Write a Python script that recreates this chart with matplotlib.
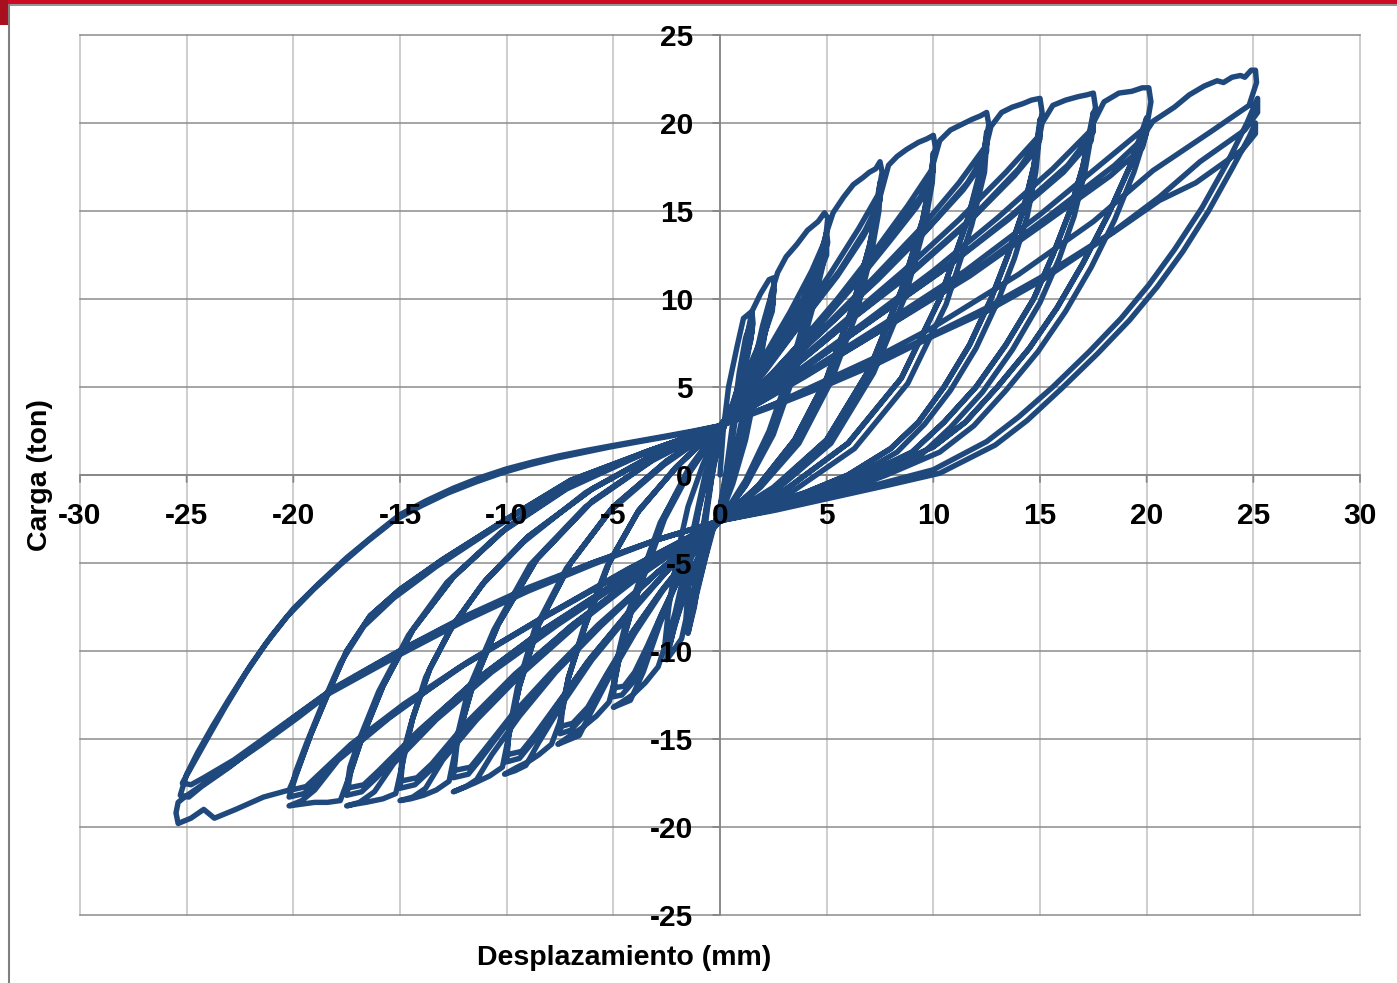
import numpy as np
import matplotlib
matplotlib.use("Agg")
import matplotlib.pyplot as plt
from matplotlib.patches import Rectangle
from matplotlib.lines import Line2D

# ---------------- data (displacement mm, load ton) ----------------
x_ticks = [-30, -25, -20, -15, -10, -5, 0, 5, 10, 15, 20, 25, 30]
y_ticks = [-25, -20, -15, -10, -5, 0, 5, 10, 15, 20, 25]
x_label = "Desplazamiento (mm)"
y_label = "Carga (ton)"

loop_1_5 = [
    (0, 0), (0.15, 2.5), (0.4, 5), (0.8, 7.3), (1.1, 8.9), (1.5, 9.3), (1.55, 8.6), (1.3, 6.8), (0.9, 5), (0.4, 3.3), (0, 2.2),
    (-0.3, 0.6), (-0.6, -2), (-0.9, -5), (-1.2, -7.5), (-1.5, -9), (-1.4, -8.4), (-1.1, -6.8), (-0.7, -4.8), (-0.3, -3), (0, -1.8),
    (0.3, 0.3), (0.6, 3), (0.9, 5.8), (1.2, 7.8), (1.5, 8.8), (1.5, 8.1), (1.1, 6), (0.6, 4), (0, 2.2),
    (-0.4, 0), (-0.8, -3), (-1.1, -6), (-1.4, -8.2), (-1.5, -8.6), (-1.3, -7.6), (-0.9, -5.6), (-0.4, -3.3), (0, -1.9),
    (0.35, 0.3), (0.7, 3), (1.0, 5.6), (1.3, 7.6), (1.5, 8.4), (1.45, 7.7), (1.0, 5.6), (0.5, 3.7), (0, 2.2),
    (-0.4, -0.2), (-0.8, -3.2), (-1.2, -6.2), (-1.4, -7.8), (-1.5, -8.2), (-1.2, -7.1), (-0.8, -5.2), (-0.4, -3.2), (0, -2),
]

loop_2_5 = [
    (0.3, 0), (0.6, 2.5), (0.9, 5), (1.2, 7.5), (1.5, 9.3), (1.9, 10.3), (2.3, 11.1), (2.5, 11.2), (2.55, 10.5), (2.3, 9), (1.7, 7), (1.0, 5), (0.4, 3.5), (0, 2.5),
    (-0.5, 0.5), (-1.0, -2), (-1.4, -5), (-1.6, -8.2), (-1.8, -9.3), (-2.2, -10), (-2.5, -10.5), (-2.4, -10), (-2.1, -8.3), (-1.6, -6.3), (-0.9, -4.3), (0, -2.3),
    (0.5, 0.2), (1.0, 3), (1.5, 5.8), (2.0, 8.5), (2.3, 9.8), (2.5, 10.5), (2.5, 9.8), (2.1, 8.2), (1.4, 6.2), (0.7, 4.2), (0, 2.5),
    (-0.6, 0.2), (-1.1, -2.5), (-1.6, -5.5), (-2.0, -7.8), (-2.3, -9.3), (-2.5, -10), (-2.3, -9.4), (-1.9, -7.6), (-1.3, -5.5), (-0.6, -3.6), (0, -2.4),
    (0.6, 0), (1.1, 2.7), (1.6, 5.5), (2.1, 8), (2.4, 9.4), (2.5, 10), (2.45, 9.3), (2.0, 7.7), (1.3, 5.8), (0.6, 4), (0, 2.5),
    (-0.7, 0), (-1.2, -2.8), (-1.7, -5.7), (-2.1, -7.8), (-2.4, -9.1), (-2.5, -9.6), (-2.2, -8.8), (-1.7, -7), (-1.1, -5), (-0.5, -3.4), (0, -2.4),
]

loop_5 = [
    (0.6, -0.5), (1.2, 2), (1.7, 5), (2.1, 8), (2.4, 10.3), (2.7, 11.5), (3.1, 12.4), (3.6, 13.1), (4.1, 13.9), (4.6, 14.4), (4.9, 14.9), (5.05, 14.6), (4.95, 13.4), (4.3, 11.6), (3.3, 9.3), (2.2, 7), (1.1, 4.8), (0, 2.7),
    (-0.8, 0.6), (-1.5, -1.8), (-2, -4.5), (-2.4, -7.5), (-2.6, -9.8), (-2.9, -10.9), (-3.5, -11.8), (-4.1, -12.5), (-4.6, -12.9), (-5, -13.2), (-4.6, -13), (-4.2, -12.8), (-3.6, -11.2), (-2.8, -8.4), (-2.1, -6.3), (-1.4, -4.6), (-0.7, -3.4), (0, -2.6),
    (1.2, -0.3), (2.3, 2.5), (3.3, 6), (4.1, 9.5), (4.6, 12), (5, 13.8), (5.05, 13.2), (4.7, 12), (3.9, 10), (2.8, 7.8), (1.5, 5.2), (0, 2.7),
    (-1.5, 0), (-2.6, -2.5), (-3.4, -5.2), (-4.1, -7.5), (-4.6, -9.7), (-4.9, -11.5), (-5, -12.6), (-4.6, -12.5), (-4.1, -11.8), (-3.5, -10.2), (-2.8, -8.1), (-2, -6), (-1, -4), (0, -2.6),
    (1.3, -0.4), (2.5, 2.3), (3.5, 5.8), (4.3, 9.3), (4.8, 11.8), (5, 13.2), (5, 12.5), (4.6, 11.3), (3.8, 9.4), (2.7, 7.4), (1.4, 5), (0, 2.7),
    (-1.6, -0.1), (-2.8, -2.7), (-3.6, -5.4), (-4.3, -7.8), (-4.7, -9.8), (-4.95, -11.3), (-5, -12.1), (-4.5, -12), (-4, -11.2), (-3.4, -9.7), (-2.7, -7.8), (-1.9, -5.8), (-1, -3.9), (0, -2.6),
]

loop_7_5 = [
    (1.2, -0.6), (2.3, 2.3), (3.3, 5.8), (4.1, 9.3), (4.6, 11.8), (5.0, 13.8), (5.3, 14.9), (5.8, 15.8), (6.25, 16.5), (6.7, 16.9), (7.0, 17.2), (7.3, 17.4), (7.5, 17.8), (7.6, 17.2), (7.4, 15.9), (6.5, 14), (5.2, 11.5), (3.7, 8.8), (1.9, 5.8), (0, 2.8),
    (-1.5, 0.3), (-2.6, -2.3), (-3.4, -5), (-4.1, -7.5), (-4.6, -9.6), (-4.9, -11.5), (-5.2, -12.9), (-5.8, -13.7), (-6.5, -14.4), (-7, -14.8), (-7.6, -15.3), (-7.2, -15.1), (-6.6, -14.8), (-6.1, -13.6), (-5.2, -11.5), (-4, -9), (-2.7, -6.6), (-1.3, -4.4), (0, -2.6),
    (1.8, -0.6), (3.5, 2), (5, 5.5), (6.2, 9.5), (7, 13), (7.4, 15.5), (7.5, 16.6), (7.5, 15.6), (6.8, 13.9), (5.6, 11.6), (4, 9), (2, 5.8), (0, 2.8),
    (-2, 0.5), (-3.8, -2), (-5.2, -5), (-6.3, -8.5), (-7.1, -11.5), (-7.4, -13.5), (-7.5, -14.7), (-7, -14.5), (-6.3, -13.6), (-5.4, -11.6), (-4.2, -9.1), (-2.8, -6.7), (-1.4, -4.5), (0, -2.6),
    (1.9, -0.7), (3.7, 1.8), (5.2, 5.3), (6.4, 9.2), (7.1, 12.6), (7.45, 15), (7.5, 16), (7.4, 15.1), (6.7, 13.5), (5.5, 11.3), (3.9, 8.8), (2, 5.7), (0, 2.8),
    (-2.1, 0.4), (-3.9, -2.2), (-5.3, -5.2), (-6.4, -8.7), (-7.1, -11.5), (-7.45, -13.4), (-7.5, -14.3), (-6.9, -14.1), (-6.2, -13.2), (-5.3, -11.3), (-4.1, -8.9), (-2.7, -6.5), (-1.3, -4.4), (0, -2.6),
]

loop_10 = [
    (1.8, -0.6), (3.5, 2), (5, 5.5), (6.2, 9.5), (7, 13), (7.5, 15.8), (7.9, 17.6), (8.3, 18.1), (8.75, 18.5), (9.3, 18.9), (9.7, 19.1), (10, 19.3), (10.1, 18.6), (9.9, 17.3), (8.8, 15.3), (7.3, 12.8), (5.5, 10), (3.6, 7.3), (1.8, 4.9), (0, 2.8),
    (-2, 0.5), (-3.8, -2), (-5.2, -5), (-6.3, -8.5), (-7.1, -11.5), (-7.5, -14), (-7.9, -15.3), (-8.5, -15.9), (-9, -16.3), (-9.5, -16.6), (-10.1, -17), (-9.6, -16.8), (-9.1, -16.5), (-8.5, -15.2), (-7.4, -13), (-6, -10.5), (-4.3, -8), (-2.3, -5.2), (0, -2.6),
    (2.5, -0.7), (5, 2), (7, 6), (8.5, 10.5), (9.5, 14.5), (9.9, 16.8), (10, 18.3), (10, 17.3), (9.4, 15.8), (8.1, 13.7), (6.5, 11.2), (4.6, 8.6), (2.4, 5.7), (0, 2.8),
    (-2.5, 0.8), (-5, -1.8), (-7, -5), (-8.5, -8.5), (-9.4, -12), (-9.9, -14.8), (-10, -16.3), (-9.4, -16.1), (-8.8, -15.2), (-7.7, -13.2), (-6.2, -10.6), (-4.4, -8), (-2.3, -5.2), (0, -2.6),
    (2.6, -0.9), (5.2, 1.8), (7.2, 5.8), (8.7, 10.2), (9.6, 14.2), (9.95, 16.6), (10, 17.6), (9.9, 16.6), (9.2, 15.2), (7.9, 13.2), (6.3, 10.8), (4.5, 8.3), (2.3, 5.6), (0, 2.8),
    (-2.6, 0.6), (-5.2, -2.1), (-7.2, -5.3), (-8.7, -8.8), (-9.5, -12.1), (-9.9, -14.6), (-10, -15.9), (-9.3, -15.7), (-8.7, -14.8), (-7.5, -12.8), (-6, -10.3), (-4.3, -7.8), (-2.2, -5.1), (0, -2.6),
]

loop_12_5 = [
    (2.5, -0.8), (5, 2), (7, 6), (8.5, 10.5), (9.5, 14.5), (9.95, 17.5), (10.3, 19), (10.8, 19.6), (11.3, 19.9), (11.8, 20.2), (12.2, 20.4), (12.5, 20.6), (12.6, 19.9), (12.4, 18.6), (11.2, 16.6), (9.4, 14), (7.2, 11.2), (4.9, 8.4), (2.4, 5.6), (0, 2.8),
    (-2.5, 0.8), (-5, -1.8), (-7, -5), (-8.5, -8.5), (-9.4, -12), (-9.9, -14.8), (-10.2, -16.6), (-10.8, -17.1), (-11.5, -17.5), (-12.1, -17.8), (-12.5, -18), (-11.9, -17.7), (-11.4, -17.3), (-10.7, -15.9), (-9.4, -13.7), (-7.7, -11.2), (-5.6, -8.6), (-2.9, -5.5), (0, -2.6),
    (3, -0.9), (6, 1.8), (8.5, 5.5), (10.3, 10), (11.6, 14.5), (12.3, 17.5), (12.5, 19.5), (12.5, 18.4), (11.6, 16.6), (9.8, 14.1), (7.5, 11.3), (5, 8.4), (2.5, 5.6), (0, 2.8),
    (-3, 1), (-6, -1.5), (-8.6, -4.8), (-10.4, -8.5), (-11.6, -12), (-12.3, -15), (-12.5, -17.2), (-11.8, -17), (-11.2, -16.1), (-9.9, -14), (-8, -11.4), (-5.8, -8.7), (-3, -5.6), (0, -2.6),
    (3.2, -1.1), (6.3, 1.5), (8.8, 5.2), (10.6, 9.7), (11.8, 14.2), (12.4, 17.2), (12.5, 18.9), (12.4, 17.9), (11.4, 16.2), (9.6, 13.8), (7.4, 11.1), (4.9, 8.3), (2.5, 5.5), (0, 2.8),
    (-3.2, 0.8), (-6.3, -1.8), (-8.9, -5.1), (-10.6, -8.8), (-11.8, -12.2), (-12.35, -15), (-12.5, -16.8), (-11.7, -16.6), (-11.1, -15.7), (-9.8, -13.7), (-7.9, -11.2), (-5.7, -8.5), (-2.9, -5.5), (0, -2.6),
]

loop_15 = [
    (3, -0.9), (6, 1.8), (8.5, 5.5), (10.3, 10), (11.6, 14.5), (12.3, 17.8), (12.7, 19.8), (13.2, 20.6), (13.7, 20.9), (14.2, 21.1), (14.6, 21.3), (15, 21.4), (15.1, 20.6), (14.9, 19.2), (13.4, 17.2), (11.2, 14.5), (8.6, 11.6), (5.8, 8.7), (2.9, 5.7), (0, 2.8),
    (-3, 1), (-6, -1.5), (-8.6, -4.8), (-10.4, -8.5), (-11.6, -12), (-12.3, -15), (-12.7, -17.4), (-13.3, -17.9), (-13.9, -18.2), (-14.5, -18.4), (-15, -18.5), (-14.4, -18.3), (-13.8, -17.8), (-13, -16.2), (-11.4, -13.9), (-9.3, -11.3), (-6.7, -8.5), (-3.5, -5.5), (0, -2.6),
    (2, -1.8), (4, -1), (6, 0), (8, 1.5), (9.3, 3), (10.5, 5), (11.7, 7.4), (12.7, 10), (13.5, 12.5), (14.2, 15), (14.7, 17.5), (15, 20.2), (15, 19.1), (14, 17.4), (11.8, 14.6), (9, 11.6), (6, 8.7), (3, 5.7), (0, 2.8),
    (-3, 1.2), (-6, -0.8), (-9, -3.5), (-11, -6), (-12.5, -8.5), (-13.6, -11), (-14.4, -13.8), (-14.85, -16), (-15, -17.8), (-14.3, -17.6), (-13.6, -16.8), (-12, -14.4), (-9.7, -11.5), (-7, -8.6), (-3.6, -5.5), (0, -2.6),
    (2.1, -2), (4.2, -1.2), (6.3, -0.1), (8.3, 1.3), (9.6, 2.9), (10.8, 4.8), (12, 7.2), (13, 9.8), (13.8, 12.3), (14.4, 14.7), (14.8, 17.2), (15, 19.6), (14.9, 18.6), (13.8, 17), (11.6, 14.3), (8.9, 11.4), (5.9, 8.6), (3, 5.7), (0, 2.8),
    (-3.2, 1.1), (-6.3, -1), (-9.2, -3.8), (-11.2, -6.3), (-12.7, -8.9), (-13.8, -11.5), (-14.5, -14.2), (-14.9, -16), (-15, -17.4), (-14.2, -17.2), (-13.5, -16.4), (-11.9, -14.1), (-9.6, -11.3), (-6.9, -8.5), (-3.5, -5.4), (0, -2.6),
]

loop_17_5 = [
    (2, -1.8), (4, -1), (6, 0), (8, 1.5), (9.3, 3), (10.5, 5), (11.7, 7.4), (12.7, 10), (13.5, 12.5), (14.2, 15), (14.7, 17.5), (15.1, 20), (15.6, 21), (16.2, 21.3), (16.8, 21.5), (17.2, 21.6), (17.5, 21.7), (17.6, 20.9), (17.4, 19.6), (15.6, 17.4), (13, 14.6), (10, 11.6), (6.7, 8.6), (3.4, 5.7), (0, 2.8),
    (-3, 1.2), (-6, -0.8), (-9, -3.5), (-11, -6), (-12.5, -8.5), (-13.6, -11), (-14.4, -13.8), (-14.9, -16.5), (-15.2, -18.1), (-15.8, -18.4), (-16.6, -18.6), (-17.1, -18.7), (-17.5, -18.8), (-16.9, -18.6), (-16.2, -18), (-15.3, -16.4), (-13.3, -13.9), (-10.7, -11.2), (-7.6, -8.5), (-3.9, -5.5), (0, -2.6),
    (2.3, -1.9), (4.5, -1.1), (6.8, 0), (9, 1.3), (10.5, 3), (12, 5), (13.4, 7.4), (14.7, 10), (15.6, 12.5), (16.4, 15), (17, 17.5), (17.5, 20.6), (17.5, 19.5), (16.3, 17.6), (13.7, 14.8), (10.5, 11.7), (7, 8.7), (3.5, 5.7), (0, 2.8),
    (-3.5, 1.3), (-7, -0.6), (-10, -3), (-12.5, -5.8), (-14.4, -8.8), (-15.8, -12), (-16.8, -15), (-17.3, -16.8), (-17.5, -18.2), (-16.8, -18), (-16.1, -17.2), (-14.3, -14.8), (-11.6, -11.8), (-8.4, -8.9), (-4.3, -5.7), (0, -2.6),
    (2.4, -2), (4.7, -1.3), (7, -0.2), (9.3, 1), (10.8, 2.7), (12.3, 4.7), (13.7, 7.1), (15, 9.8), (15.9, 12.3), (16.6, 14.7), (17.1, 17.2), (17.5, 20), (17.4, 19), (16.1, 17.2), (13.5, 14.5), (10.3, 11.5), (6.9, 8.6), (3.5, 5.7), (0, 2.8),
    (-3.6, 1.2), (-7.2, -0.8), (-10.3, -3.3), (-12.8, -6.1), (-14.6, -9.1), (-16, -12.3), (-16.9, -15), (-17.35, -16.6), (-17.5, -17.8), (-16.7, -17.6), (-16, -16.8), (-14.1, -14.5), (-11.4, -11.6), (-8.3, -8.8), (-4.2, -5.6), (0, -2.6),
]

loop_20 = [
    (2.3, -1.9), (4.5, -1.1), (6.8, 0), (9, 1.3), (10.5, 3), (12, 5), (13.4, 7.4), (14.7, 10), (15.6, 12.5), (16.4, 15), (17, 17.5), (17.5, 20), (18, 21.2), (18.7, 21.7), (19.3, 21.8), (19.8, 22), (20.1, 22), (20.2, 21.2), (20, 19.8), (18, 17.8), (15, 14.8), (11.5, 11.6), (7.7, 8.6), (3.9, 5.7), (0, 2.8),
    (-3.5, 1.3), (-7, -0.6), (-10, -3), (-12.5, -5.8), (-14.4, -8.8), (-15.8, -12), (-16.8, -15), (-17.4, -17.2), (-17.8, -18.5), (-18.4, -18.6), (-19, -18.6), (-19.6, -18.7), (-20.2, -18.8), (-19.6, -18.5), (-19, -17.9), (-17.9, -16.2), (-15.5, -13.8), (-12.3, -11), (-8.6, -8.3), (-4.4, -5.4), (0, -2.6),
    (2.5, -1.8), (5, -1), (7.5, 0.2), (10, 1.6), (11.5, 3), (13, 5), (14.5, 7.2), (15.8, 9.5), (17, 12), (18.2, 14.8), (19.2, 17.5), (20, 20.3), (19.9, 19.2), (18.5, 17.6), (15.4, 14.7), (11.8, 11.5), (7.9, 8.5), (4, 5.6), (0, 2.8),
    (-3.5, 1.3), (-7, -0.3), (-10, -2.5), (-13, -4.8), (-15, -6.5), (-16.4, -8), (-17.5, -10), (-18.3, -12.2), (-19.2, -14.8), (-19.8, -16.8), (-20.2, -18.3), (-19.5, -18.1), (-18.8, -17.3), (-17.5, -15.6), (-15, -13.3), (-12, -10.8), (-8.4, -8.2), (-4.3, -5.4), (0, -2.6),
    (2.6, -1.9), (5.2, -1.2), (7.8, 0), (10.3, 1.3), (11.9, 2.8), (13.4, 4.8), (14.9, 7), (16.2, 9.3), (17.4, 11.8), (18.5, 14.5), (19.4, 17.2), (20, 19.5), (19.8, 18.6), (18.3, 17), (15.2, 14.3), (11.7, 11.3), (7.8, 8.4), (3.9, 5.6), (0, 2.8),
    (-3.6, 1.2), (-7.2, -0.5), (-10.3, -2.8), (-13.3, -5.2), (-15.3, -7), (-16.7, -8.6), (-17.8, -10.7), (-18.6, -12.9), (-19.4, -15.3), (-19.9, -16.9), (-20.1, -17.9), (-19.4, -17.7), (-18.7, -16.9), (-17.3, -15.3), (-14.8, -13), (-11.8, -10.6), (-8.3, -8.1), (-4.2, -5.3), (0, -2.6),
]

loop_25 = [
    (2.5, -1.8), (5, -1), (7.5, 0.2), (10, 1.6), (11.5, 3), (13, 5), (14.5, 7.2), (15.8, 9.5), (17, 12), (18.2, 14.8), (19.2, 17.5), (19.8, 19.2), (20.3, 20.1), (20.8, 20.5), (21.3, 20.9), (22, 21.6), (22.7, 22.1), (23.3, 22.4), (23.6, 22.3), (24, 22.6), (24.4, 22.7), (24.6, 22.6), (24.9, 23), (25.1, 23), (25.15, 22.3), (24.8, 21), (23, 19.5), (20.3, 17.3), (17.5, 14.4), (14, 11.4), (10, 8.4), (7.5, 6.8), (5, 5.4), (2.5, 4.0), (0, 2.8),
    (-3.5, 1.3), (-7, -0.3), (-10, -2.5), (-13, -4.8), (-15, -6.5), (-16.4, -8), (-17.5, -10), (-18.3, -12.2), (-19.2, -14.8), (-19.8, -16.8), (-20.2, -17.9), (-21.4, -18.3), (-22.7, -19), (-23.7, -19.5), (-24.2, -19), (-24.8, -19.5), (-25.4, -19.8), (-25.5, -19.2), (-25.4, -18.6), (-25.1, -18.3), (-23.3, -16.8), (-21.5, -15.3), (-19.8, -13.8), (-18.3, -12.4), (-16.5, -11.2), (-15, -10.2), (-12, -8.3), (-9, -6.6), (-6, -5.1), (-3, -3.7), (0, -2.6),
    (2.5, -1.9), (5, -1.2), (7.5, -0.5), (10, 0.3), (12.5, 1.9), (14, 3.3), (15.6, 5), (17.3, 7), (18.8, 8.9), (20.1, 10.8), (21.3, 12.8), (22.6, 15.2), (23.8, 17.8), (24.7, 20), (25.2, 21.4), (25.2, 20.6), (24.6, 19.6), (22.5, 17.8), (20.6, 15.8), (18.4, 13.8), (15, 11.2), (12.5, 9.5), (10, 8), (7.5, 6.5), (5, 5.2), (2.5, 4), (0, 2.8),
    (-1.25, 2.5), (-2.5, 2.22), (-3.75, 1.95), (-5, 1.68), (-6.25, 1.4), (-7.5, 1.1), (-8.75, 0.75), (-10, 0.35), (-11.25, -0.15), (-12.5, -0.75), (-13.75, -1.45), (-15, -2.25), (-16.25, -3.45), (-17.5, -4.7), (-18.75, -6.1), (-20, -7.6), (-21, -9.1), (-22, -10.8), (-23, -12.7), (-23.8, -14.3), (-24.5, -15.8), (-25, -17), (-25.3, -18.2), (-24.9, -18.3), (-24.3, -17.7), (-23, -16.6), (-21.5, -15.2), (-19.9, -13.7), (-18.3, -12.3), (-16.6, -11.1), (-15, -10), (-12, -8.1), (-9, -6.5), (-6, -5), (-3, -3.7), (0, -2.6),
    (2.6, -2), (5.2, -1.3), (7.8, -0.6), (10.3, 0.1), (12.9, 1.7), (14.4, 3.1), (16, 4.9), (17.7, 6.9), (19.2, 8.8), (20.5, 10.7), (21.7, 12.7), (22.9, 15), (24, 17.4), (24.8, 19.2), (25.1, 20), (25.1, 19.4), (24.5, 18.5), (22.3, 16.6), (20.6, 15.6), (18.4, 13.75), (15, 11), (12.5, 9.3), (10, 7.9), (7.5, 6.4), (5, 5.1), (2.5, 3.9), (0, 2.8),
    (-1.3, 2.45), (-2.6, 2.15), (-3.9, 1.87), (-5.2, 1.58), (-6.4, 1.28), (-7.7, 0.95), (-8.95, 0.57), (-10.2, 0.13), (-11.45, -0.4), (-12.75, -1.02), (-14, -1.75), (-15.3, -2.6), (-16.55, -3.8), (-17.8, -5.1), (-19.05, -6.5), (-20.3, -8.05), (-21.3, -9.6), (-22.25, -11.3), (-23.2, -13.2), (-23.95, -14.8), (-24.6, -16.2), (-25.2, -17.5), (-24.8, -17.6), (-24.2, -17.2), (-22.8, -16.2), (-21.3, -14.9), (-19.7, -13.5), (-18.1, -12.1), (-16.5, -11), (-14.9, -9.9), (-11.9, -8), (-9, -6.4), (-6, -5), (-3, -3.7), (0, -2.6),
]

test_sequence = [loop_1_5, loop_2_5, loop_5, loop_7_5, loop_10, loop_12_5,
                 loop_15, loop_17_5, loop_20, loop_25]

# ---------------- style ----------------
W, H = 1397, 983
LINE_COLOR = "#1F497D"
FONT = "Liberation Sans"
plt.rcParams["font.family"] = [FONT, "DejaVu Sans"]

fig = plt.figure(figsize=(W / 100, H / 100), dpi=100)
fig.patch.set_facecolor("white")

# slide decorations (red bar, frame lines)
fig.add_artist(Rectangle((0, 1 - 4 / H), 1, 4 / H, transform=fig.transFigure,
                         facecolor="#CC0A22", edgecolor="none"))
fig.add_artist(Rectangle((0, 1 - 25 / H), 8 / W, 25 / H, transform=fig.transFigure,
                         facecolor="#A8101E", edgecolor="none"))
fig.add_artist(Line2D([8.5 / W, 1], [1 - 4.5 / H, 1 - 4.5 / H], transform=fig.transFigure,
                      color="#808080", lw=1.2))
fig.add_artist(Line2D([8.5 / W, 8.5 / W], [0, 1 - 4.5 / H], transform=fig.transFigure,
                      color="#808080", lw=1.5))

ax = fig.add_axes([80 / W, 1 - 915 / H, 1280 / W, 880 / H])
ax.set_xlim(-30, 30)
ax.set_ylim(-25, 25)
ax.set_facecolor("none")

# gridlines
for xv in x_ticks:
    ax.axvline(xv, color="#C0C0C0", lw=1.1, zorder=0, clip_on=False)
for yv in y_ticks:
    ax.axhline(yv, color="#8C8C8C", lw=1.1, zorder=0, clip_on=False)

for s in ax.spines.values():
    s.set_visible(False)
ax.set_xticks([])
ax.set_yticks([])

# zero axes with tick marks
ax.axhline(0, color="#868686", lw=1.3, zorder=0.5)
ax.axvline(0, color="#868686", lw=1.3, zorder=0.5)
for xv in x_ticks:
    ax.annotate("", xy=(xv, 0), xytext=(0, -5), textcoords="offset points",
                arrowprops=dict(arrowstyle="-", color="#868686", lw=1.3,
                                shrinkA=0, shrinkB=0), zorder=0.5)
for yv in y_ticks:
    ax.annotate("", xy=(0, yv), xytext=(-5, 0), textcoords="offset points",
                arrowprops=dict(arrowstyle="-", color="#868686", lw=1.3,
                                shrinkA=0, shrinkB=0), zorder=0.5)

# hysteresis curve
pts = np.array([p for loop in test_sequence for p in loop], dtype=float)
ax.plot(pts[:, 0], pts[:, 1], color=LINE_COLOR, lw=3.9, zorder=2,
        solid_joinstyle="round", solid_capstyle="round")

# tick labels (drawn on top of the curve)
TICK_FS = 21.5
for xv in x_ticks:
    ax.annotate(f"{xv}", xy=(xv, 0), xytext=(0, -35), textcoords="offset points",
                ha="center", va="baseline", fontsize=TICK_FS, fontweight="bold",
                color="black", zorder=5, annotation_clip=False)
for yv in y_ticks:
    ax.annotate(f"{yv}", xy=(0, yv), xytext=(-19.5, -7.8), textcoords="offset points",
                ha="right", va="baseline", fontsize=TICK_FS, fontweight="bold",
                color="black", zorder=5, annotation_clip=False)

fig.text(624 / W, 1 - 958 / H, x_label, ha="center", va="center",
         fontsize=20.5, fontweight="bold")
fig.text(40 / W, 1 - 475 / H, y_label, ha="center", va="center", rotation=90,
         fontsize=20.5, fontweight="bold")

fig.savefig("out.png", dpi=100)
